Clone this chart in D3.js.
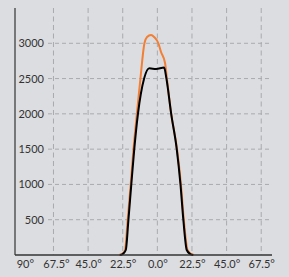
<!DOCTYPE html>
<html>
<head>
<meta charset="utf-8">
<script src="https://cdn.jsdelivr.net/npm/d3@7"></script>
<style>
  body { margin: 0; background: #dcdde0; }
  svg { display: block; font-family: Lato, "Liberation Sans", sans-serif; }
</style>
</head>
<body>
<svg id="chart"></svg>
<script>
// values (angle in degrees, intensity)
const xTicks = [-90, -67.5, -45, -22.5, 0, 22.5, 45, 67.5];
const yTicks = [500, 1000, 1500, 2000, 2500, 3000];

const blackAngles = [-24.2, -22.5, -20.5, -18.8, -16.9, -15.0, -12.6, -8.6, -5.2, -0.8, 4.4, 5.9, 9.0, 12.6, 15.0, 16.9, 19.1, 21.3, 23.2];
const blackValues = [0, 15, 71, 496, 1006, 1500, 2000, 2500, 2645, 2635, 2657, 2500, 2000, 1500, 1006, 496, 71, 15, 0];

const orangeAngles = [-24.9, -22.8, -21.0, -19.3, -17.3, -15.5, -13.3, -11.0, -8.4, -6.7, -4.1, -2.1, 0.6, 2.4, 5.0, 6.3, 9.0, 12.8, 15.3, 17.2, 19.6, 21.8, 23.8];
const orangeValues = [0, 15, 71, 496, 1006, 1500, 2000, 2500, 3000, 3090, 3118, 3090, 3004, 2876, 2720, 2480, 2000, 1500, 1006, 496, 71, 15, 0];

const WIDTH = 289;
const HEIGHT = 277;
const PLOT = {left: 15, right: 272, top: 8, bottom: 255};

const svg = d3.select('#chart')
  .attr('width', WIDTH)
  .attr('height', HEIGHT);

svg.append('rect')
  .attr('width', WIDTH)
  .attr('height', HEIGHT)
  .attr('fill', '#dcdde0');

const x = d3.scaleLinear().domain([-92.5, 74.5]).range([PLOT.left, PLOT.right]);
const y = d3.scaleLinear().domain([0, 3500]).range([PLOT.bottom, PLOT.top]);

// grid
const grid = svg.append('g');
grid.selectAll('.vgrid')
  .data(xTicks.slice(1))
  .enter()
  .append('line')
  .attr('x1', d => x(d)).attr('x2', d => x(d))
  .attr('y1', PLOT.top).attr('y2', PLOT.bottom)
  .attr('stroke', '#a9aaad')
  .attr('stroke-width', 1)
  .attr('stroke-dasharray', '5,3.5');

grid.selectAll('.hgrid')
  .data(yTicks)
  .enter()
  .append('line')
  .attr('x1', 48).attr('x2', PLOT.right)
  .attr('y1', d => y(d)).attr('y2', d => y(d))
  .attr('stroke', '#a9aaad')
  .attr('stroke-width', 1)
  .attr('stroke-dasharray', '4,3');

// y labels
svg.append('g')
  .attr('transform', 'translate(47,0)')
  .call(d3.axisLeft(y).tickValues(yTicks).tickSize(0).tickPadding(3).tickFormat(d3.format('d')))
  .call(g => g.select('.domain').remove())
  .selectAll('text')
  .attr('font-family', 'Lato, "Liberation Sans", sans-serif')
  .attr('font-size', 11)
  .attr('fill', '#333');

// x labels
const xAxis = svg.append('g')
  .attr('transform', `translate(0, ${PLOT.bottom})`)
  .call(d3.axisBottom(x).tickValues(xTicks).tickSize(0).tickPadding(5)
    .tickFormat(d => d === -90 ? '90°' : Math.abs(d).toFixed(1) + '°'))
  .call(g => g.select('.domain').remove());

xAxis.selectAll('text')
  .attr('font-family', 'Lato, "Liberation Sans", sans-serif')
  .attr('font-size', 11)
  .attr('fill', '#333')
  .attr('dx', d => d === -90 ? 6 : (d === -67.5 ? 2.5 : 0));

// series
const lineGen = d3.line()
  .x(d => x(d[0]))
  .y(d => y(d[1]))
  .curve(d3.curveMonotoneX);

const orangeData = orangeAngles.map((a, i) => [a, orangeValues[i]]);
const blackData = blackAngles.map((a, i) => [a, blackValues[i]]);

svg.append('path')
  .datum(orangeData)
  .attr('d', lineGen)
  .attr('fill', 'none')
  .attr('stroke', '#f27f36')
  .attr('stroke-width', 2);

svg.append('path')
  .datum(blackData)
  .attr('d', lineGen)
  .attr('fill', 'none')
  .attr('stroke', '#000')
  .attr('stroke-width', 2);

// axis lines
svg.append('line')
  .attr('x1', PLOT.left).attr('x2', PLOT.left)
  .attr('y1', PLOT.top).attr('y2', PLOT.bottom)
  .attr('stroke', '#555')
  .attr('stroke-width', 1.5);

svg.append('line')
  .attr('x1', PLOT.left).attr('x2', PLOT.right)
  .attr('y1', PLOT.bottom).attr('y2', PLOT.bottom)
  .attr('stroke', '#333')
  .attr('stroke-width', 1.5);
</script>
</body>
</html>
